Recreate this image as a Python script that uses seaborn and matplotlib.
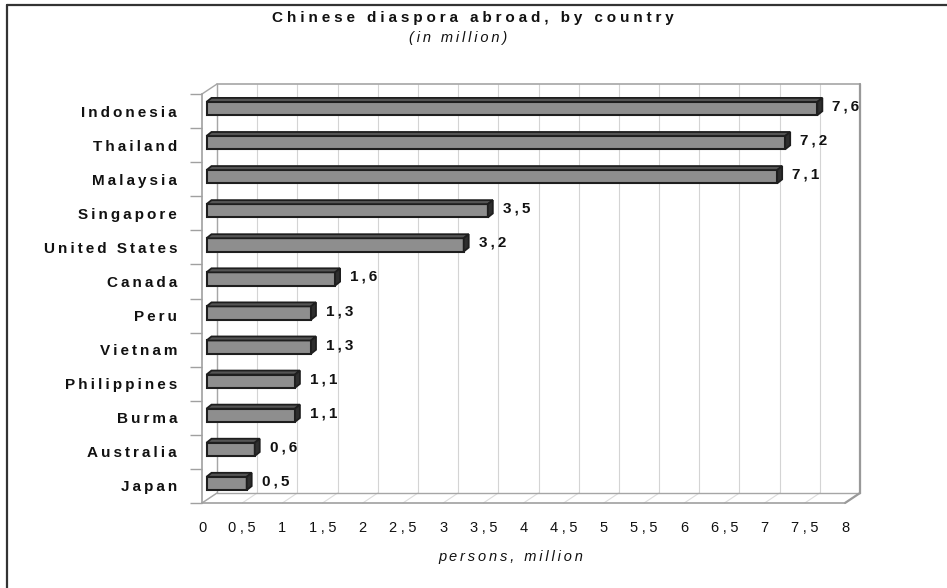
import matplotlib
matplotlib.use("Agg")
import matplotlib.pyplot as plt
from matplotlib.patches import Polygon
from matplotlib.lines import Line2D
import seaborn as sns
import pandas as pd

# ---- data -------------------------------------------------------------
countries = ["Indonesia", "Thailand", "Malaysia", "Singapore", "United States",
             "Canada", "Peru", "Vietnam", "Philippines", "Burma", "Australia", "Japan"]
population = [7.6, 7.2, 7.1, 3.5, 3.2, 1.6, 1.3, 1.3, 1.1, 1.1, 0.6, 0.5]
x_ticks = [0, 0.5, 1, 1.5, 2, 2.5, 3, 3.5, 4, 4.5, 5, 5.5, 6, 6.5, 7, 7.5, 8]
title = "Chinese diaspora abroad, by country"
subtitle = "(in million)"
x_label = "persons, million"

THIN = "\u2009"   # thin space used as letter spacing
WIDE = "\u2005"   # four-per-em space, wider letter spacing


def spaced(s, gap=THIN):
    return gap.join(s)


def fmt(v, gap=THIN):
    return spaced(f"{v:g}".replace(".", ","), gap)


sns.set_theme(style="white")
plt.rcParams["font.family"] = ["Liberation Sans", "DejaVu Sans"]

W, H = 947, 588
fig = plt.figure(figsize=(W / 100, H / 100), dpi=100)
fig.patch.set_facecolor("white")

# front plane of the pseudo-3D box, in pixels
L, R, T, B = 202, 845, 94, 503
ax = fig.add_axes([L / W, 1 - B / H, (R - L) / W, (B - T) / H])
ax.set_facecolor("none")

df = pd.DataFrame({"country": countries, "population": population})
sns.barplot(data=df, x="population", y="country", orient="h", color="#8e8e8e",
            saturation=1, edgecolor="#1e1e1e", linewidth=1.5, width=0.39, ax=ax)

ax.set_xlim(0, 8)
ax.set_ylim(11.5, -0.5)
sx = (R - L) / 8.0            # px per x unit
sy = (B - T) / 12.0           # px per category


def off(px, py):
    """pixel offset (right, up) -> data offset"""
    return px / sx, -py / sy


# back wall / floor depth
wdx, wdy = off(15, 10)
ybot, ytop = 11.5, -0.5
wall_kw = dict(clip_on=False, zorder=0)
for t in x_ticks:
    ax.plot([t + wdx, t + wdx], [ybot + wdy, ytop + wdy], color="#d4d4d4", lw=0.8, **wall_kw)
    ax.plot([t, t + wdx], [ybot, ybot + wdy], color="#dcdcdc", lw=0.8, **wall_kw)
edge = "#a6a6a6"
ax.plot([wdx, 8 + wdx], [ytop + wdy, ytop + wdy], color=edge, lw=1.2, **wall_kw)
ax.plot([8 + wdx, 8 + wdx], [ytop + wdy, ybot + wdy], color="#999999", lw=1.6, **wall_kw)
ax.plot([wdx, wdx], [ytop + wdy, ybot + wdy], color=edge, lw=1.0, **wall_kw)
ax.plot([wdx, 8 + wdx], [ybot + wdy, ybot + wdy], color=edge, lw=1.0, **wall_kw)
ax.plot([0, wdx], [ytop, ytop + wdy], color=edge, lw=1.0, **wall_kw)
ax.plot([0, wdx], [ybot, ybot + wdy], color=edge, lw=1.0, **wall_kw)
ax.plot([8, 8 + wdx], [ybot, ybot + wdy], color="#999999", lw=1.6, **wall_kw)

# give the bars depth: shift into the box and add top and end faces
bsx, bsy = off(4.5, 2.5)
ddx, ddy = off(5, 4)
for patch, v in zip(ax.patches, population):
    patch.set_x(patch.get_x() + bsx)
    patch.set_y(patch.get_y() + bsy)
    patch.set_zorder(3)
    x0 = patch.get_x()
    x1 = x0 + patch.get_width()
    yt = patch.get_y()
    yb = yt + patch.get_height()
    top = Polygon([(x0, yt), (x1, yt), (x1 + ddx, yt + ddy), (x0 + ddx, yt + ddy)],
                  closed=True, facecolor="#555555", edgecolor="#1e1e1e", lw=1.3,
                  zorder=3, clip_on=False)
    end = Polygon([(x1, yt), (x1 + ddx, yt + ddy), (x1 + ddx, yb + ddy), (x1, yb)],
                  closed=True, facecolor="#2e2e2e", edgecolor="#1e1e1e", lw=1.3,
                  zorder=3, clip_on=False)
    ax.add_patch(top)
    ax.add_patch(end)
    ax.annotate(fmt(v), xy=(x1, (yt + yb) / 2), xytext=(15, 2), textcoords="offset pixels",
                ha="left", va="center", fontsize=11, fontweight="bold", color="#111111",
                annotation_clip=False)

# axes styling
for side in ("top", "right"):
    ax.spines[side].set_visible(False)
for side in ("left", "bottom"):
    ax.spines[side].set_color("#a0a0a0")
    ax.spines[side].set_linewidth(1.2)

ax.set_xticks(x_ticks)
ax.set_xticklabels([fmt(t, WIDE) for t in x_ticks], fontsize=10.5, color="#111111")
ax.tick_params(axis="x", length=7, width=1, color="#a0a0a0", pad=6, direction="out")

ax.set_yticks(range(len(countries)))
ax.set_yticklabels([spaced(c) for c in countries], fontsize=11, fontweight="bold",
                   color="#111111")
ax.set_yticks([i - 0.5 for i in range(len(countries) + 1)], minor=True)
ax.tick_params(axis="y", which="major", length=0, pad=18)
ax.tick_params(axis="y", which="minor", length=9, width=1, color="#a0a0a0",
               direction="out", left=True)
ax.set_xlabel("")
ax.set_ylabel("")
ax.grid(False)

# titles and axis caption
fig.text(473 / W, 1 - 18 / H, spaced(title, WIDE), ha="center", va="center",
         fontsize=11, fontweight="bold", color="#111111")
fig.text(458 / W, 1 - 38 / H, spaced(subtitle), ha="center", va="center",
         fontsize=10.5, style="italic", color="#111111")
fig.text(511 / W, 1 - 557 / H, spaced(x_label), ha="center", va="center",
         fontsize=10.5, style="italic", color="#111111")

# outer frame (top and left edges)
fig.add_artist(Line2D([7 / W, 7 / W], [0, 1 - 5 / H], color="#333333", lw=1.6))
fig.add_artist(Line2D([7 / W, 1], [1 - 5 / H, 1 - 5 / H], color="#333333", lw=1.6))

fig.savefig("out.png", dpi=100)
